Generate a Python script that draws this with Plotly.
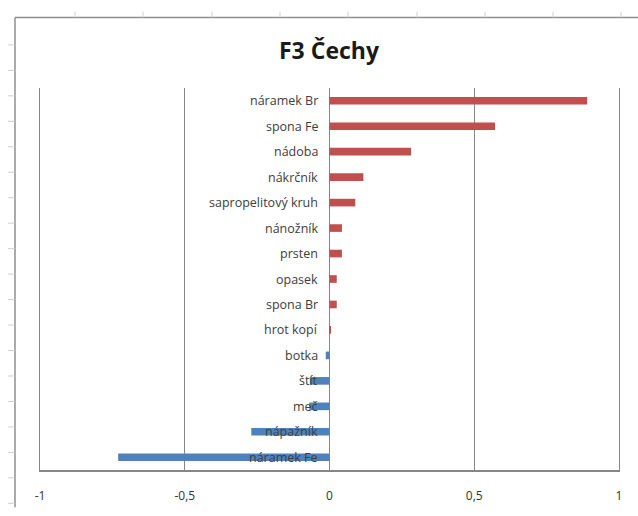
import plotly.graph_objects as go

# Data (top to bottom as shown)
categories = ["náramek Br", "spona Fe", "nádoba", "nákrčník", "sapropelitový kruh",
              "nánožník", "prsten", "opasek", "spona Br", "hrot kopí",
              "botka", "štít", "meč", "nápažník", "náramek Fe"]
values = [0.89, 0.572, 0.282, 0.117, 0.089,
          0.043, 0.043, 0.025, 0.025, 0.004,
          -0.013, -0.068, -0.07, -0.27, -0.73]
tick_vals = [-1, -0.5, 0, 0.5, 1]
tick_text = ["-1", "-0,5", "0", "0,5", "1"]
title_text = "F3 Čechy"

POS = "#C0504D"
NEG = "#4F81BD"
GRID = "#868686"

colors = [POS if v >= 0 else NEG for v in values]

fig = go.Figure()
fig.add_trace(go.Bar(
    x=values, y=categories, orientation="h",
    marker=dict(color=colors, line=dict(width=0)),
    width=0.3, showlegend=False, hoverinfo="x+y",
))

annotations = []
for c in categories:
    annotations.append(dict(
        x=0, y=c, xref="x", yref="y", text=c, showarrow=False,
        xanchor="right", yanchor="middle", xshift=-10,
        font=dict(family="Open Sans", size=12.5, color="#404040"),
    ))

W, H = 638, 516
ML, MR, MT, MB = 40, 19, 88, 38

def px_x(px):
    return (px - ML) / (W - ML - MR)

def px_y(py):
    return (H - MB - py) / (H - MT - MB)

shapes = []
shapes.append(dict(type="line", xref="paper", yref="paper",
                   x0=px_x(15), x1=px_x(15), y0=px_y(16), y1=px_y(516),
                   line=dict(color="#8f8f8f", width=1.5)))
shapes.append(dict(type="line", xref="paper", yref="paper",
                   x0=px_x(15), x1=px_x(638), y0=px_y(16), y1=px_y(16),
                   line=dict(color="#8f8f8f", width=1.5)))
# faint sheet tick marks on the frame
for ty in [44, 70, 96, 122, 148, 174, 200, 226, 252, 278, 304, 330, 356, 382, 408, 434, 460, 486, 512]:
    shapes.append(dict(type="line", xref="paper", yref="paper",
                       x0=px_x(8), x1=px_x(15), y0=px_y(ty), y1=px_y(ty),
                       line=dict(color="#cfcfcf", width=1)))
for tx in [75, 143, 212, 280, 348, 417, 485, 553, 621]:
    shapes.append(dict(type="line", xref="paper", yref="paper",
                       x0=px_x(tx), x1=px_x(tx), y0=px_y(10), y1=px_y(16),
                       line=dict(color="#cfcfcf", width=1)))

fig.update_layout(
    width=W, height=H,
    margin=dict(l=ML, r=MR, t=MT, b=MB, pad=0),
    paper_bgcolor="white", plot_bgcolor="white",
    separators=", ",
    title=dict(text="<b>" + title_text + "</b>", x=329 / W, xanchor="center",
               y=1 - 51 / H, yanchor="middle",
               font=dict(family="Open Sans", size=23, color="#1a1a1a")),
    xaxis=dict(range=[-1, 1], tickvals=tick_vals, ticktext=tick_text,
               showgrid=True, gridcolor=GRID, gridwidth=1,
               zeroline=True, zerolinecolor=GRID, zerolinewidth=1,
               showline=True, linecolor=GRID, linewidth=1.5, mirror=False,
               ticks="", ticklabelstandoff=14,
               tickfont=dict(family="Open Sans", size=12, color="#333333"),
               fixedrange=True),
    yaxis=dict(categoryorder="array", categoryarray=categories,
               autorange="reversed", showticklabels=False, showgrid=False,
               zeroline=False, showline=True, linecolor=GRID, linewidth=1.2,
               mirror=True, ticks="", fixedrange=True),
    annotations=annotations,
    shapes=shapes,
    bargap=0.7,
)

fig.write_html("out.html", config={"displayModeBar": False},
               post_script="document.body.style.margin='0';")
